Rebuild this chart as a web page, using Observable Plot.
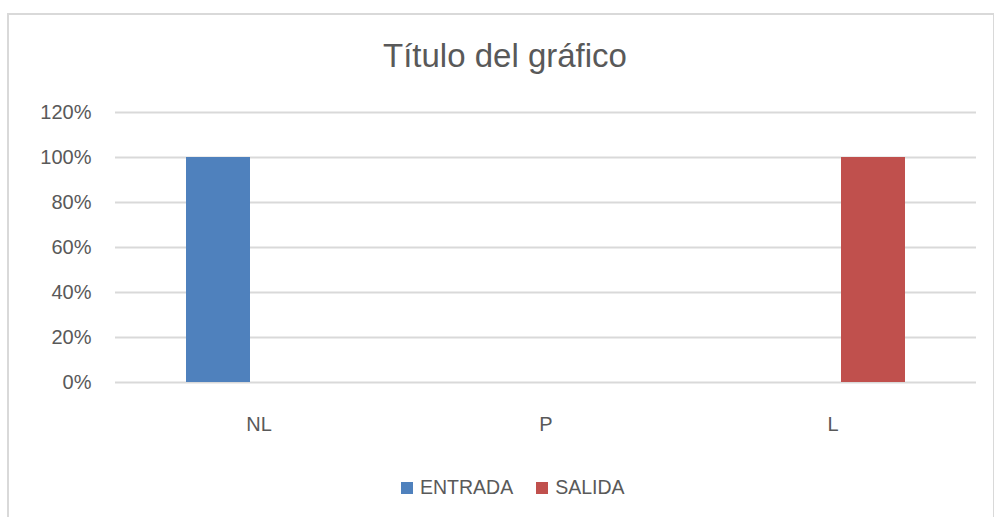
<!DOCTYPE html>
<html>
<head>
<meta charset="utf-8">
<script src="https://cdn.jsdelivr.net/npm/d3@7"></script>
<script src="https://cdn.jsdelivr.net/npm/@observablehq/plot@0.6"></script>
<style>
  html, body { margin: 0; padding: 0; background: #fff; width: 994px; height: 517px; overflow: hidden; }
  body { position: relative; font-family: "Liberation Sans", Arial, sans-serif; color: #595959; }
  #frame { position: absolute; left: 7px; top: 13px; width: 988px; height: 600px; box-sizing: border-box; border: 2px solid #D9D9D9; }
  #title { position: absolute; left: 0; width: 1010px; top: 39px; text-align: center; font-size: 33px; line-height: 1; white-space: nowrap; }
  #chart { position: absolute; left: 0; top: 90px; }
  #legend { position: absolute; left: 401px; top: 478px; display: flex; align-items: center; font-size: 19.5px; line-height: 1; white-space: nowrap; }
  .item { display: inline-flex; align-items: center; }
  .sw { width: 12px; height: 12px; display: inline-block; margin-right: 7px; }
</style>
</head>
<body>
<div id="frame"></div>
<div id="title">Título del gráfico</div>
<div id="chart"></div>
<div id="legend"></div>
<script>
const categories = ["NL", "P", "L"];
const seriesNames = ["ENTRADA", "SALIDA"];
const entrada = [1, 0, 0];
const salida = [0, 0, 1];
const seriesColors = ["#4F81BD", "#C0504D"];
const yTicks = [0, 0.2, 0.4, 0.6, 0.8, 1.0, 1.2];

const seriesValues = [entrada, salida];
const rows = [];
categories.forEach((c, i) => {
  seriesNames.forEach((s, j) => rows.push({cat: c, serie: s, value: seriesValues[j][i]}));
});

const plot = Plot.plot({
  width: 994,
  height: 370,
  marginLeft: 114,
  marginRight: 17,
  marginTop: 22,
  marginBottom: 78,
  style: {fontSize: "20px", fontFamily: "'Liberation Sans', Arial, sans-serif", color: "#595959", background: "transparent"},
  fx: {domain: categories, padding: 0, axis: "bottom", tickSize: 0, tickPadding: 34, label: null},
  x: {domain: seriesNames, axis: null, paddingInner: 0.207, paddingOuter: 0.859},
  y: {domain: [0, 1.2], ticks: yTicks, tickFormat: d3.format(".0%"), tickSize: 0, tickPadding: 24, label: null},
  color: {domain: seriesNames, range: seriesColors},
  marks: [
    Plot.ruleY(yTicks, {stroke: "#D9D9D9", strokeWidth: 2}),
    Plot.barY(rows, {fx: "cat", x: "serie", y: "value", fill: "serie"})
  ]
});
document.getElementById("chart").appendChild(plot);

const legend = document.getElementById("legend");
seriesNames.forEach((s, j) => {
  const item = document.createElement("span");
  item.className = "item";
  if (j > 0) item.style.marginLeft = "23px";
  const sw = document.createElement("span");
  sw.className = "sw";
  sw.style.background = seriesColors[j];
  item.appendChild(sw);
  item.appendChild(document.createTextNode(s));
  legend.appendChild(item);
});
</script>
</body>
</html>
